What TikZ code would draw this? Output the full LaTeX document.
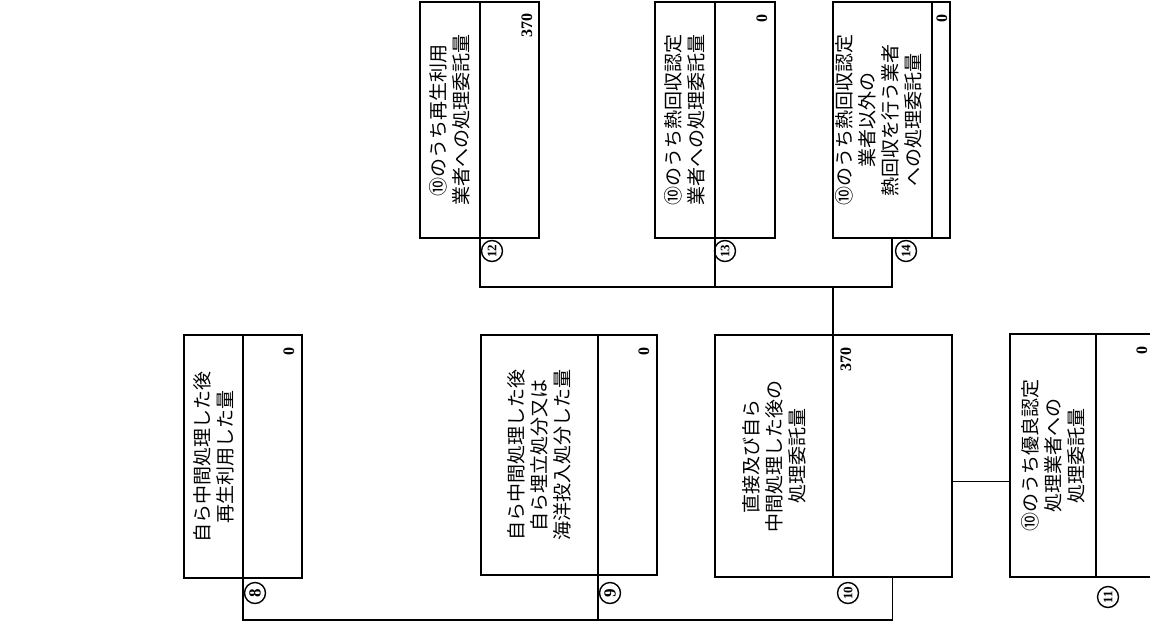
\documentclass[tikz,border=0pt]{standalone}
\usepackage{fontspec}
\setmainfont{Liberation Serif}
\newfontfamily\jpfont{Noto Sans CJK JP}
\usetikzlibrary{positioning}
\tikzset{
  part/.style={draw, line width=1.8pt, anchor=north west, inner sep=0pt, outer sep=0pt},
  lbl/.style={rotate=90, font=\jpfont\fontsize{19}{23}\selectfont, align=center, inner sep=0pt},
  val/.style={rotate=90, anchor=base east, font=\bfseries\fontsize{16}{18}\selectfont, inner sep=0pt},
  num/.style={rotate=90, circle, draw, line width=1.4pt, minimum size=21pt, inner sep=0pt,
              font=\bfseries\fontsize{17}{17}\selectfont},
  numb/.style={num, font=\bfseries\fontsize{13}{13}\selectfont},
  link/.style={line width=1.8pt}
}
\begin{document}
\begin{tikzpicture}[x=1pt,y=-1pt]
\useasboundingbox (0,0) rectangle (1150,621);
\fill[white] (0,0) rectangle (1150,621);
\coordinate (toprail) at (0,287);
\coordinate (botrail) at (0,620);
% lower row
\node[part, minimum width=59pt, minimum height=243pt] (t8) at (184,335) {};
\node[part, minimum width=59pt, minimum height=243pt] (v8) at (243,335) {};
\node[part, minimum width=117pt, minimum height=240pt] (t9) at (481,335) {};
\node[part, minimum width=59pt, minimum height=240pt] (v9) at (598,335) {};
\node[part, minimum width=118pt, minimum height=242pt] (t10) at (715,335) {};
\node[part, minimum width=119pt, minimum height=242pt] (v10) at (833,335) {};
\node[part, minimum width=86pt, minimum height=243pt] (t11) at (1010,334) {};
\node[part, minimum width=59pt, minimum height=243pt] (v11) at (1096,334) {};
% upper row
\node[part, minimum width=60pt, minimum height=236pt] (t12) at (420,2) {};
\node[part, minimum width=59pt, minimum height=236pt] (v12) at (480,2) {};
\node[part, minimum width=60pt, minimum height=236pt] (t13) at (655,2) {};
\node[part, minimum width=60pt, minimum height=236pt] (v13) at (715,2) {};
\node[part, minimum width=99pt, minimum height=236pt] (t14) at (833,2) {};
\node[part, minimum width=18pt, minimum height=236pt] (v14) at (932,2) {};
% labels
\node[lbl] (l8) at (t8.center) {自ら中間処理した後\\再生利用した量};
\node[lbl] (l9) at (t9.center) {自ら中間処理した後\\自ら埋立処分又は\\海洋投入処分した量};
\node[lbl] (l10) at (t10.center) {直接及び自ら\\中間処理した後の\\処理委託量};
\node[lbl] (l11) at (t11.center) {⑩のうち優良認定\\処理業者への\\処理委託量};
\node[lbl] (l12) at (t12.center) {⑩のうち再生利用\\業者への処理委託量};
\node[lbl] (l13) at (t13.center) {⑩のうち熱回収認定\\業者への処理委託量};
\node[lbl] (l14) at ([xshift=-4pt]t14.center) {⑩のうち熱回収認定\\業者以外の\\熱回収を行う業者\\への処理委託量};
% values
\node[val] (q8) at ([xshift=-8pt,yshift=-12pt]v8.north east) {0};
\node[val] (q9) at ([xshift=-8pt,yshift=-12pt]v9.north east) {0};
\node[val] (q10) at ([xshift=18pt,yshift=-12pt]v10.north west) {370};
\node[val] (q11) at ([xshift=-8pt,yshift=-12pt]v11.north east) {0};
\node[val] (q12) at ([xshift=-7pt,yshift=-11pt]v12.north east) {370};
\node[val] (q13) at ([xshift=-8pt,yshift=-12pt]v13.north east) {0};
\node[val] (q14) at ([xshift=-3pt,yshift=-12pt]v14.north east) {0};
% circled numbers
\node[num] (n8) at ([xshift=12pt,yshift=-15pt]v8.south west) {8};
\node[num] (n9) at ([xshift=12pt,yshift=-18pt]v9.south west) {9};
\node[numb] (n10) at ([xshift=15pt,yshift=-16pt]v10.south west) {10};
\node[numb] (n11) at ([xshift=12pt,yshift=-20pt]v11.south west) {11};
\node[numb] (n12) at ([xshift=12pt,yshift=-13pt]v12.south west) {12};
\node[numb] (n13) at ([xshift=10pt,yshift=-13pt]v13.south west) {13};
\node[numb] (n14) at ([xshift=73pt,yshift=-13pt]t14.south west) {14};
% connectors
\draw[link] (v8.south west) -- (v8.south west |- botrail) -| (v10.south);
\draw[link] (v9.south west) -- (v9.south west |- botrail);
\draw[link] (v12.south west) -- (v12.south west |- toprail) -| ([xshift=59pt]t14.south west);
\draw[link] (v13.south west) -- (v13.south west |- toprail);
\draw[link] (t10.north east) -- (t10.north east |- toprail);
\draw[link] ([yshift=-26pt]t11.west) -- ([yshift=-26pt]t11.west -| v10.east);
\end{tikzpicture}
\end{document}
